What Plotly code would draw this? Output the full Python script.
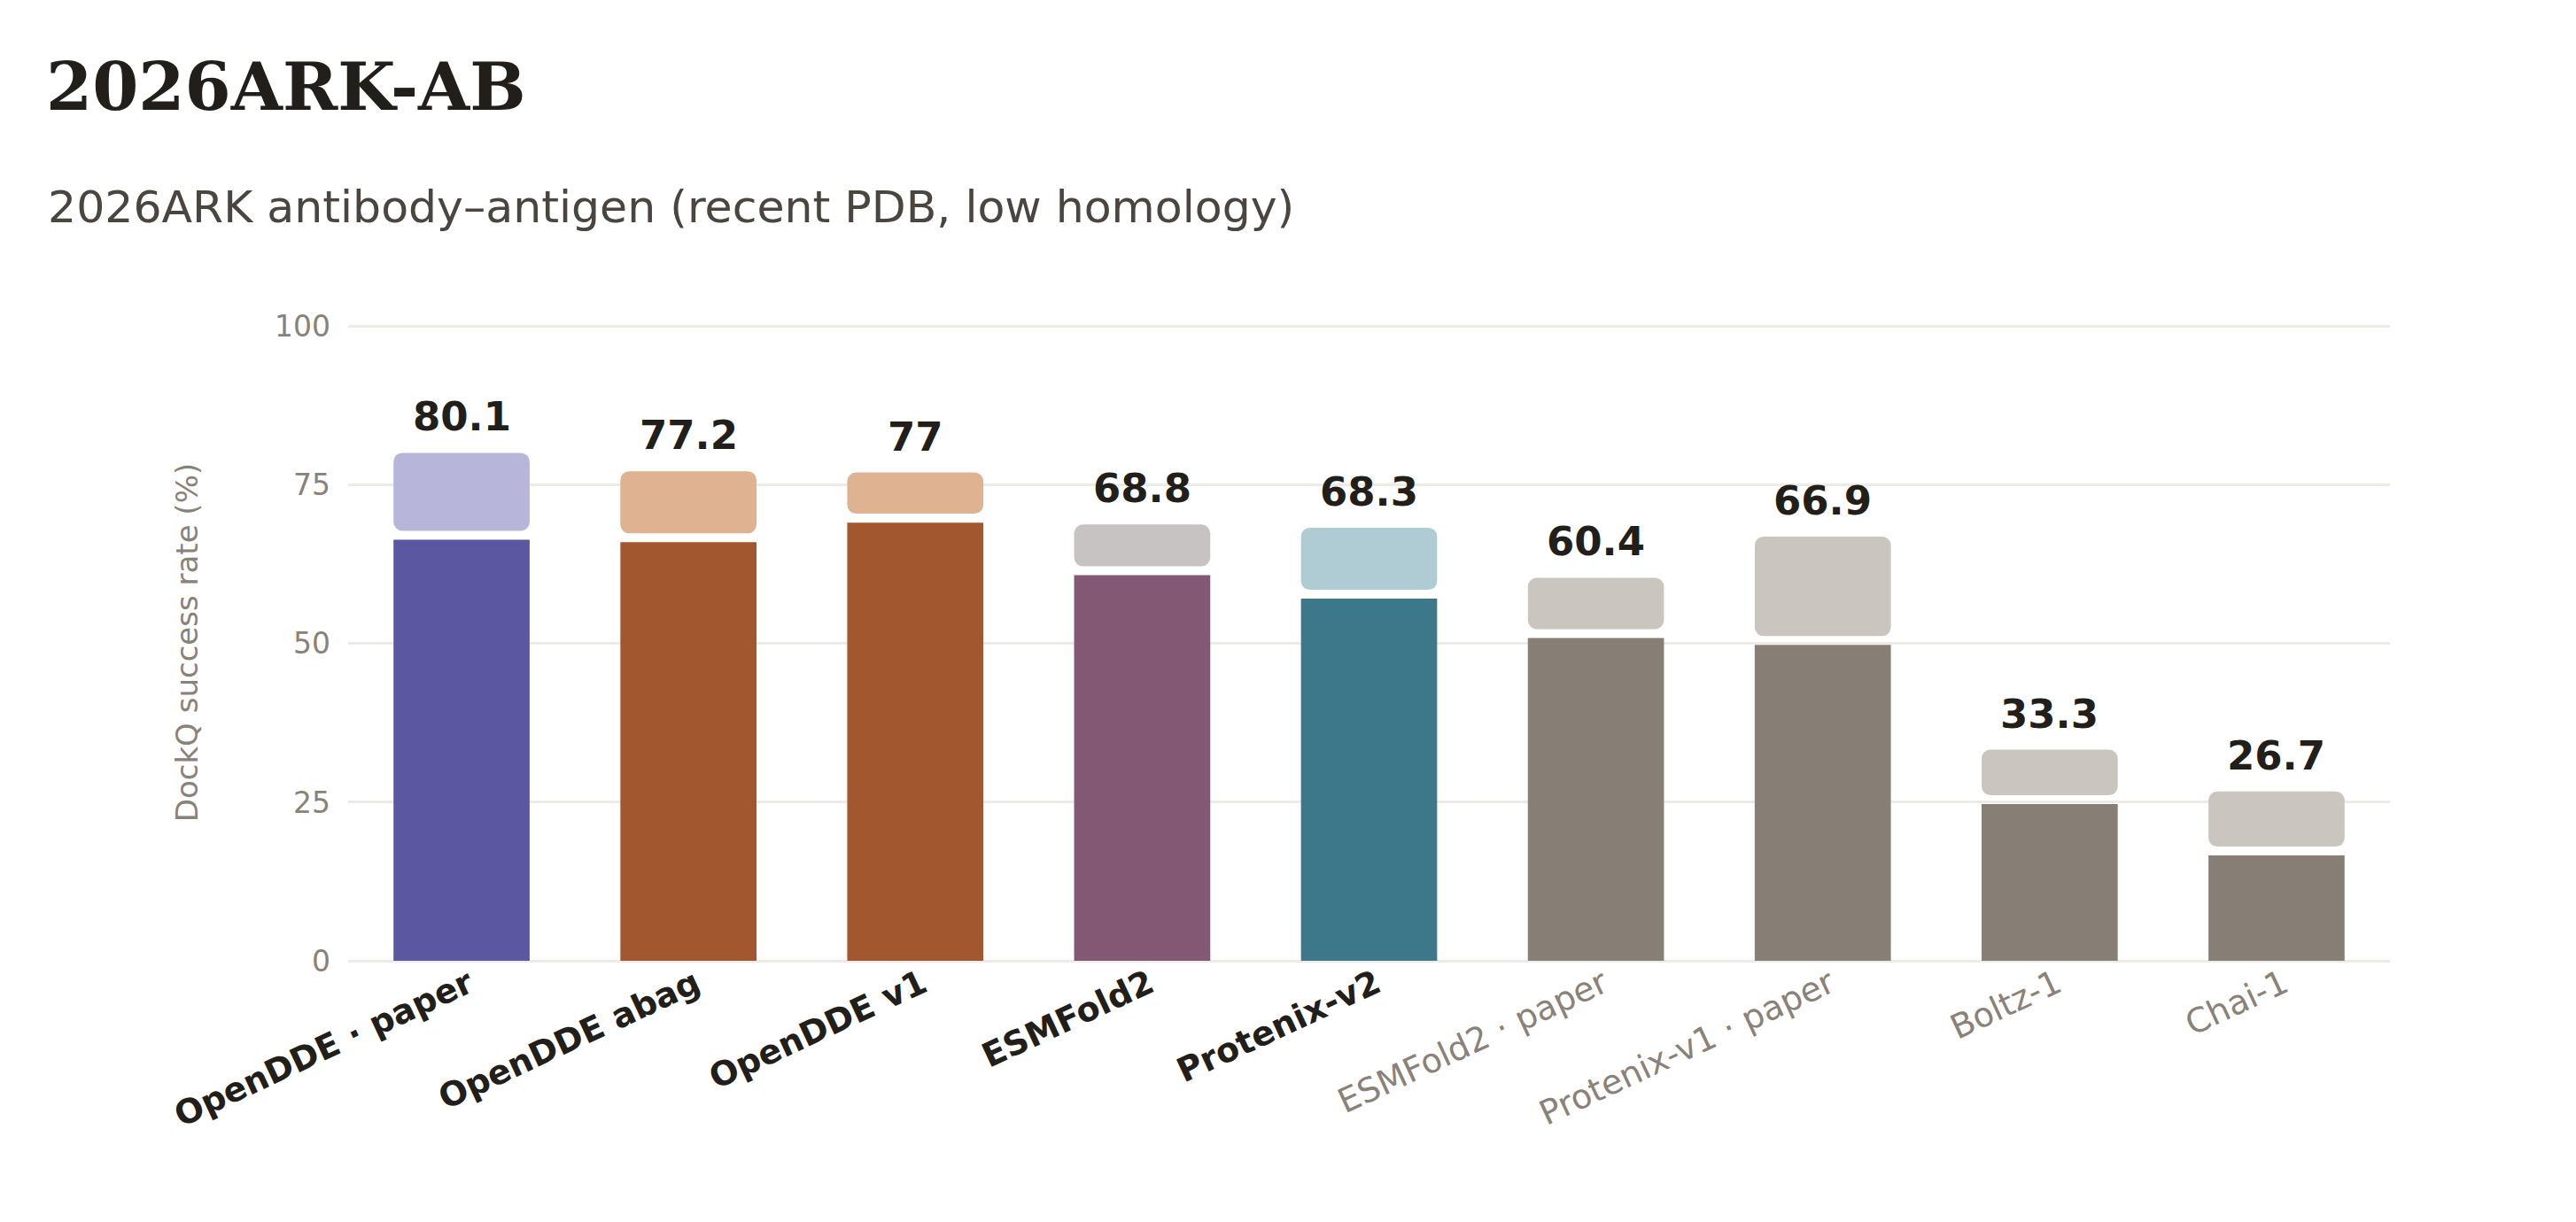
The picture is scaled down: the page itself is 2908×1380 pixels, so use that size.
import plotly.graph_objects as go

# data
models = ["OpenDDE · paper", "OpenDDE abag", "OpenDDE v1", "ESMFold2", "Protenix-v2",
          "ESMFold2 · paper", "Protenix-v1 · paper", "Boltz-1", "Chai-1"]
best = [80.1, 77.2, 77.0, 68.8, 68.3, 60.4, 66.9, 33.3, 26.7]   # labelled value (light bar top)
top1 = [66.4, 66.0, 69.1, 60.8, 57.1, 50.9, 49.8, 24.7, 16.6]   # dark bar
highlight = [True, True, True, True, True, False, False, False, False]

dark_colors = ["#5B57A0", "#A3572E", "#A3572E", "#825874", "#3D778A",
               "#877F75", "#877F75", "#877F75", "#877F75"]
light_colors = ["#B7B5DA", "#DFB392", "#DFB392", "#C8C3C3", "#AFCBD3",
                "#CAC5BF", "#CAC5BF", "#CAC5BF", "#CAC5BF"]

W, H = 2908, 1380
ML, MR, MT, MB = 393, 210, 366, 295
PW, PH = W - ML - MR, H - MT - MB
GAP = 1.4          # white split between the two segments, in axis units
FONT = "DejaVu Sans"
INK = "#221E19"
MUTED = "#8A8178"


def px_x(px):
    return (px - ML) / PW


def px_y(px):
    return (H - MB - px) / PH


fig = go.Figure()
fig.add_trace(go.Bar(x=models, y=top1, marker=dict(color=dark_colors, line_width=0),
                     hoverinfo="skip"))
fig.add_trace(go.Bar(x=models, base=[t + GAP for t in top1],
                     y=[b - t - GAP for b, t in zip(best, top1)],
                     marker=dict(color=light_colors, line_width=0), hoverinfo="skip"))

for m, b in zip(models, best):
    fig.add_annotation(x=m, y=b, text=f"{b:g}", showarrow=False, yanchor="bottom",
                       yshift=12, font=dict(family=FONT, size=45, color=INK, weight="bold"))

fig.add_annotation(xref="paper", yref="paper", x=px_x(50), y=px_y(144), xanchor="left",
                   yanchor="bottom", text="2026ARK-AB", showarrow=False,
                   font=dict(family="DejaVu Serif", size=75, color=INK, weight="bold"))
fig.add_annotation(xref="paper", yref="paper", x=px_x(52), y=px_y(265), xanchor="left",
                   yanchor="bottom", text="2026ARK antibody–antigen (recent PDB, low homology)",
                   showarrow=False, font=dict(family=FONT, size=50.5, color="#4A463F"))

ticktext = [f"<b>{m}</b>" if h else f"<span style='color:{MUTED}'>{m}</span>"
            for m, h in zip(models, highlight)]

fig.update_layout(
    width=W, height=H,
    margin=dict(l=ML, r=MR, t=MT, b=MB),
    paper_bgcolor="white", plot_bgcolor="white",
    barmode="overlay", bargap=0.4, barcornerradius=10,
    showlegend=False,
    font=dict(family=FONT, color=MUTED),
)
fig.update_xaxes(tickmode="array", tickvals=models, ticktext=ticktext, tickangle=-25,
                 tickfont=dict(family=FONT, size=38, color=INK), showgrid=False,
                 showline=False, zeroline=False, ticklabelstandoff=-4, ticklabelshift=8)
fig.update_yaxes(range=[0, 100.4], tickvals=[0, 25, 50, 75, 100], showgrid=True,
                 gridcolor="#EEEBE6", gridwidth=3,
                 zeroline=True, zerolinecolor="#EEEBE6", zerolinewidth=3,
                 tickfont=dict(family=FONT, size=33, color=MUTED), ticklabelstandoff=19,
                 title=dict(text="DockQ success rate (%)", standoff=76,
                            font=dict(family=FONT, size=34, color=MUTED)))

fig.write_html("out.html", config={"displayModeBar": False},
               post_script="document.body.style.margin='0';")
